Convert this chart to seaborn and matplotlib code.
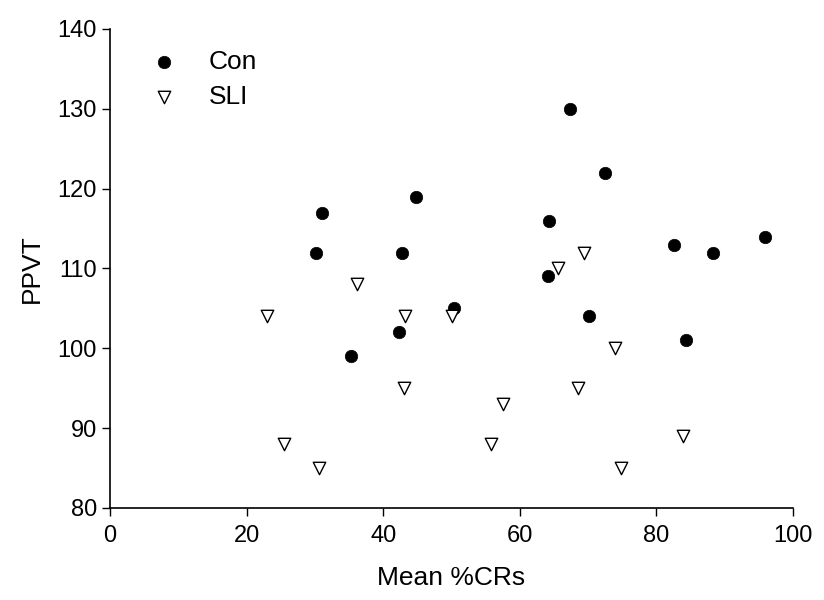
import numpy as np
import pandas as pd
import matplotlib
matplotlib.use("Agg")
import matplotlib.pyplot as plt
import seaborn as sns

# Control group
con_x = [30.2, 31.0, 35.3, 42.3, 42.8, 44.8, 50.4, 64.1, 64.3, 67.3, 70.1, 72.5, 82.6, 84.3, 88.3, 95.9]
con_y = [112, 117, 99, 102, 112, 119, 105, 109, 116, 130, 104, 122, 113, 101, 112, 114]

# SLI group
sli_x = [23.0, 25.5, 30.6, 36.2, 43.2, 43.0, 50.1, 55.8, 57.5, 65.6, 69.4, 68.5, 73.9, 74.8, 83.9]
sli_y = [104, 88, 85, 108, 104, 95, 104, 88, 93, 110, 112, 95, 100, 85, 89]

x_ticks = [0, 20, 40, 60, 80, 100]
y_ticks = [80, 90, 100, 110, 120, 130, 140]

sns.set_style("ticks", {"text.color": "black", "axes.labelcolor": "black",
                        "xtick.color": "black", "ytick.color": "black"})
plt.rcParams['font.family'] = ['Liberation Sans', 'DejaVu Sans']

fig = plt.figure(figsize=(8.24, 6), dpi=100)
ax = fig.add_axes([110/824, 1-508/600, (793-110)/824, (508-29)/600])

sns.scatterplot(x=con_x, y=con_y, ax=ax, marker="o", s=80, color="black",
                edgecolor="black", linewidth=0.5, label="Con", zorder=3)
sns.scatterplot(x=sli_x, y=sli_y, ax=ax, marker="v", s=80, facecolor="white",
                edgecolor="black", linewidth=1.0, label="SLI", zorder=3)

ax.set_xlim(0, 100)
ax.set_ylim(80, 140)
ax.set_xticks(x_ticks)
ax.set_yticks(y_ticks)
ax.tick_params(axis="both", labelsize=17, direction="out", length=6, width=1, colors="black")
ax.tick_params(axis="x", pad=6)
ax.set_xlabel("Mean %CRs", fontsize=19, labelpad=14, color="black")
ax.set_ylabel("PPVT", fontsize=19, labelpad=10, color="black")
for sp in ["left", "bottom"]:
    ax.spines[sp].set_linewidth(1.2)
    ax.spines[sp].set_color("black")
sns.despine(ax=ax)

leg = ax.legend(loc="upper left", bbox_to_anchor=(0.005, 1.005), frameon=False, fontsize=19,
                handletextpad=0.7, labelspacing=0.4, markerscale=1.0, borderpad=0.4)
for t in leg.get_texts():
    t.set_color("black")

fig.savefig("out.png", dpi=100)
